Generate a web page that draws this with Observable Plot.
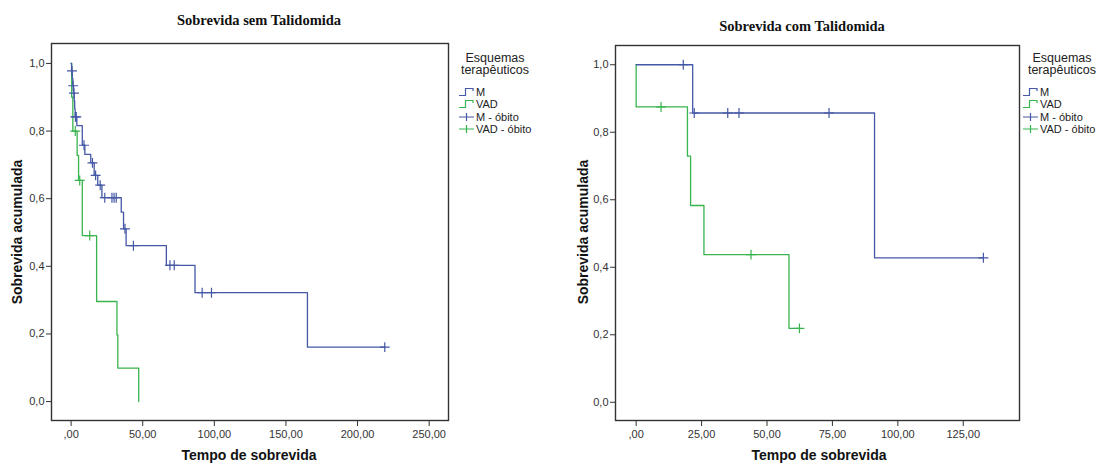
<!DOCTYPE html>
<html><head><meta charset="utf-8">
<script src="https://cdn.jsdelivr.net/npm/d3@7"></script>
<script src="https://cdn.jsdelivr.net/npm/@observablehq/plot@0.6"></script>
<style>
body{margin:0;background:#fff;}
#wrap{position:relative;width:1105px;height:464px;overflow:hidden;font-family:"Liberation Sans",Arial,sans-serif;background:#fff;}
.panel{position:absolute;top:0;}
.title{position:absolute;font-family:"Liberation Serif","Times New Roman",serif;font-weight:bold;font-size:14.5px;color:#111;white-space:nowrap;transform:translateX(-50%);}
.xlab{position:absolute;font-weight:bold;font-size:14px;color:#111;white-space:nowrap;transform:translateX(-50%);}
.ylab{position:absolute;font-weight:bold;font-size:14px;color:#111;white-space:nowrap;transform:translate(-50%,-50%) rotate(-90deg);}
.lgtitle{position:absolute;font-size:12.5px;line-height:12px;color:#222;text-align:center;transform:translateX(-50%);white-space:nowrap;}
.lgitem{position:absolute;font-size:11px;color:#222;white-space:nowrap;display:flex;align-items:center;height:12px;}
.lgitem svg{margin-right:1px;}
</style></head>
<body><div id="wrap"></div>
<script>
// ---------- data ----------
const titles = ["Sobrevida sem Talidomida", "Sobrevida com Talidomida"];
const xLabel = "Tempo de sobrevida";
const yLabel = "Sobrevida acumulada";
const legendTitle = ["Esquemas", "terapêuticos"];
const legendLabels = ["M", "VAD", "M - óbito", "VAD - óbito"];
const xTicksSem = [0, 50, 100, 150, 200, 250];
const xTicksCom = [0, 25, 50, 75, 100, 125];
const yTicks = [0, 0.2, 0.4, 0.6, 0.8, 1.0];

// Sem Talidomida - M (event times and survival after each event)
const semM_time = [0.3, 0.8, 1.2, 1.7, 2.2, 2.5, 2.8, 4.0, 7.8, 9.6, 13.7, 16.1, 18.6, 21.5, 35.0, 36.6, 38.4, 66.5, 86.5, 165.0];
const semM_surv = [0.978, 0.956, 0.934, 0.912, 0.889, 0.866, 0.842, 0.816, 0.758, 0.731, 0.706, 0.669, 0.640, 0.603, 0.560, 0.511, 0.461, 0.403, 0.322, 0.161];
const semM_end = 219;
const semM_censTime = [0.6, 1.4, 2.0, 3.0, 3.6, 9.0, 14.9, 17.1, 20.3, 23.5, 28.5, 30.0, 31.5, 37.6, 43.5, 69.0, 72.0, 91.5, 98.0, 219.0];
const semM_censSurv = [0.978, 0.934, 0.912, 0.842, 0.842, 0.758, 0.706, 0.669, 0.640, 0.603, 0.603, 0.603, 0.603, 0.511, 0.461, 0.403, 0.403, 0.322, 0.322, 0.161];

// Sem Talidomida - VAD
const semV_time = [0.4, 1.2, 4.2, 5.2, 7.8, 17.8, 32.0, 32.6, 47.2];
const semV_surv = [0.90, 0.80, 0.728, 0.654, 0.491, 0.296, 0.197, 0.099, 0.0];
const semV_end = 47.2;
const semV_censTime = [2.9, 6.0, 13.0];
const semV_censSurv = [0.80, 0.654, 0.491];

// Com Talidomida - M
const comM_time = [21.6, 91.1];
const comM_surv = [0.857, 0.428];
const comM_end = 132.7;
const comM_censTime = [18.0, 22.2, 35.0, 39.3, 73.7, 132.7];
const comM_censSurv = [1.0, 0.857, 0.857, 0.857, 0.857, 0.428];

// Com Talidomida - VAD
const comV_time = [0, 19.6, 20.8, 25.9, 58.4];
const comV_surv = [0.875, 0.729, 0.583, 0.4375, 0.219];
const comV_end = 62.4;
const comV_censTime = [9.5, 43.9, 62.4];
const comV_censSurv = [0.875, 0.4375, 0.219];

const blue = "#4458a6";
const green = "#38b44e";

// ---------- helpers ----------
function stepLine(times, survs, end) {
  const pts = [{t: 0, s: 1}].concat(times.map((t, i) => ({t, s: survs[i]})));
  pts.push({t: end, s: pts[pts.length - 1].s});
  return pts;
}
function cens(times, survs) { return times.map((t, i) => ({t, s: survs[i]})); }
const fmtX = d => d === 0 ? ",00" : d.toFixed(2).replace(".", ",");
const fmtY = d => d.toFixed(1).replace(".", ",");

function panel(o) {
  return Plot.plot({
    width: o.width, height: 464,
    marginLeft: o.ml, marginRight: o.mr, marginTop: o.mt, marginBottom: 44,
    style: {fontFamily: "'Liberation Sans', Arial, sans-serif", fontSize: "11px", color: "#333", background: "transparent", overflow: "visible"},
    x: {domain: o.xd},
    y: {domain: o.yd},
    marks: [
      Plot.axisX({ticks: o.xt, tickFormat: fmtX, tickSize: 6, tickPadding: 4, label: null, stroke: "#333"}),
      Plot.axisY({ticks: yTicks, tickFormat: fmtY, tickSize: 5, tickPadding: 2, label: null, stroke: "#333"}),
      Plot.line(o.v, {x: "t", y: "s", curve: "step-after", stroke: green, strokeWidth: 1.3}),
      Plot.line(o.m, {x: "t", y: "s", curve: "step-after", stroke: blue, strokeWidth: 1.3}),
      Plot.dot(o.vc, {x: "t", y: "s", symbol: "plus", r: 3.3, stroke: green, strokeWidth: 1.2}),
      Plot.dot(o.mc, {x: "t", y: "s", symbol: "plus", r: 3.3, stroke: blue, strokeWidth: 1.2}),
      Plot.frame({stroke: "#333", strokeWidth: 1.4})
    ]
  });
}

const wrap = document.getElementById("wrap");

const left = panel({
  width: 552, ml: 51, mr: 104, mt: 43,
  xd: [-13.7, 263.5], yd: [-0.056, 1.059], xt: xTicksSem,
  m: stepLine(semM_time, semM_surv, semM_end),
  v: stepLine(semV_time, semV_surv, semV_end),
  mc: cens(semM_censTime, semM_censSurv),
  vc: cens(semV_censTime, semV_censSurv)
});
left.classList.add("panel"); left.style.left = "0px";
wrap.appendChild(left);

const right = panel({
  width: 553, ml: 63, mr: 86, mt: 45,
  xd: [-7.9, 146.5], yd: [-0.054, 1.057], xt: xTicksCom,
  m: stepLine(comM_time, comM_surv, comM_end),
  v: stepLine(comV_time, comV_surv, comV_end),
  mc: cens(comM_censTime, comM_censSurv),
  vc: cens(comV_censTime, comV_censSurv)
});
right.classList.add("panel"); right.style.left = "552px";
wrap.appendChild(right);

function addDiv(cls, text, x, y) {
  const d = document.createElement("div");
  d.className = cls; d.textContent = text;
  d.style.left = x + "px"; d.style.top = y + "px";
  wrap.appendChild(d); return d;
}
addDiv("title", titles[0], 259, 12);
addDiv("title", titles[1], 802, 18);
addDiv("xlab", xLabel, 249, 447);
addDiv("xlab", xLabel, 819, 447);
addDiv("ylab", yLabel, 17, 232);
addDiv("ylab", yLabel, 583, 232);

const symStep = c => `<svg width="16" height="12"><path d="M0,9.5H6.5V2.5H14V5" fill="none" stroke="${c}" stroke-width="1.2"/></svg>`;
const symPlus = c => `<svg width="16" height="12"><path d="M0,6H15M7.5,2V10" fill="none" stroke="${c}" stroke-width="1.2"/></svg>`;
function legend(cx, x0) {
  const t = addDiv("lgtitle", "", cx, 52);
  t.innerHTML = legendTitle.join("<br>");
  const syms = [symStep(blue), symStep(green), symPlus(blue), symPlus(green)];
  const ys = [86, 98, 110.5, 122.5];
  legendLabels.forEach((lab, i) => {
    const d = addDiv("lgitem", "", x0, ys[i]);
    d.innerHTML = syms[i] + "<span>" + lab + "</span>";
  });
}
legend(495, 459);
legend(1062, 1023);
</script></body></html>
